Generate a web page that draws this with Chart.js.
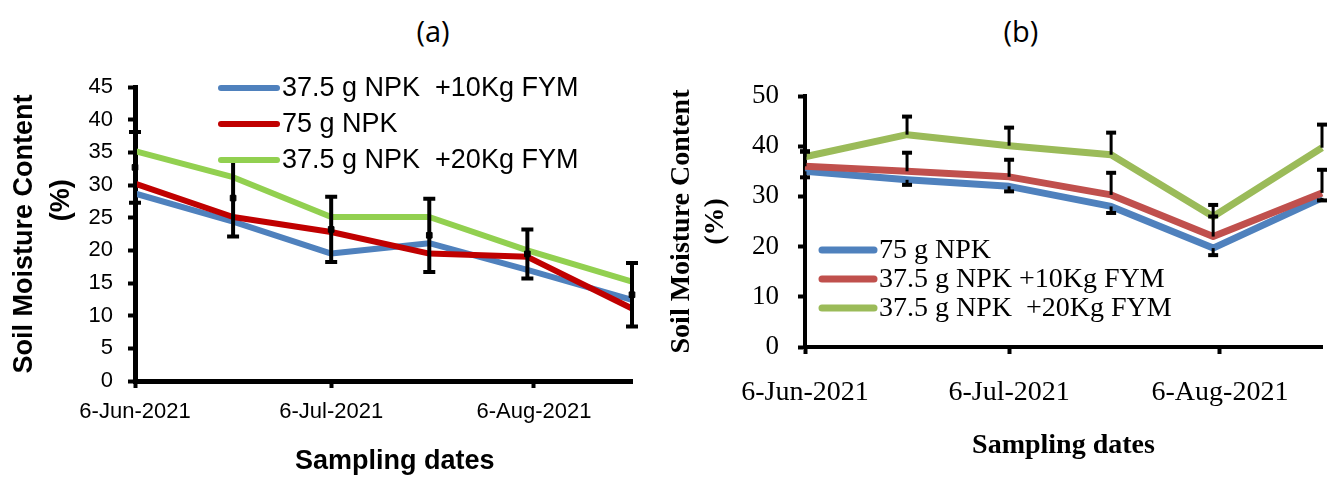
<!DOCTYPE html>
<html><head><meta charset="utf-8">
<script src="https://cdn.jsdelivr.net/npm/chart.js@4.4.1/dist/chart.umd.min.js"></script>
<style>
html,body{margin:0;padding:0;background:#fff;}
#wrap{position:relative;width:1330px;height:481px;overflow:hidden;background:#fff;}
canvas{position:absolute;top:0;}
#ca{left:0;} #cb{left:665px;}
.ptitle{position:absolute;top:11px;font-family:"Open Sans",sans-serif;font-size:29px;color:#000;transform:translateX(-50%);line-height:40px;white-space:nowrap;}
</style></head>
<body><div id="wrap">
<div class="ptitle" style="left:433px">(a)</div>
<div class="ptitle" style="left:1021px">(b)</div>
<canvas id="ca" width="665" height="481"></canvas>
<canvas id="cb" width="665" height="481"></canvas>
</div>
<script>
// ---- shared categories ----
const sampleDates = ['6-Jun-2021','21-Jun-2021','6-Jul-2021','21-Jul-2021','5-Aug-2021','21-Aug-2021'];
const tickDates = ['6-Jun-2021','6-Jul-2021','6-Aug-2021'];

// ---- panel (a) ----
const aLabels = ['37.5 g NPK  +10Kg FYM','75 g NPK','37.5 g NPK  +20Kg FYM'];
const aFym10 = [28.7,24.4,19.5,21.1,17.0,12.4];
const aNpk75 = [30.2,25.1,22.8,19.5,19.0,11.1];
const aFym20 = [35.2,31.2,25.1,25.1,20.0,15.2];
const aErrMid = [32.7,28.0,23.2,22.3,19.45,13.2];
const aErrHalf = [5.4,5.9,5.0,5.6,3.75,4.85];
const aYTicks = [0,5,10,15,20,25,30,35,40,45];

// ---- panel (b) ----
const bLabels = ['75 g NPK','37.5 g NPK +10Kg FYM','37.5 g NPK  +20Kg FYM'];
const bNpk75 = [35.0,33.3,32.0,28.0,19.7,29.7];
const bFym10 = [36.0,35.0,33.9,30.3,22.0,30.7];
const bFym20 = [37.9,42.3,40.1,38.3,26.0,39.7];
const bNpk75ErrMinus = [1.2,1.0,1.0,1.3,1.4,0.5];
const bFym10ErrPlus = [3.0,3.7,3.4,4.4,4.0,4.6];
const bFym20ErrPlus = [1.0,3.6,3.6,4.4,2.3,4.6];
const bYTicks = [0,10,20,30,40,50];

// ---- date helpers ----
const MONTHS = {Jan:0,Feb:1,Mar:2,Apr:3,May:4,Jun:5,Jul:6,Aug:7,Sep:8,Oct:9,Nov:10,Dec:11};
function toDay(s){const p=s.split('-');return Date.UTC(+p[2],MONTHS[p[1]],+p[0])/86400000;}
const day0 = toDay(sampleDates[0]);
const sampleX = sampleDates.map(s=>toDay(s)-day0);
const tickX = tickDates.map(s=>toDay(s)-day0);
const pts = arr => arr.map((v,i)=>({x:sampleX[i],y:v}));

// ---- plugins ----
const errorBars = {
  id:'errorBars',
  afterDatasetsDraw(chart,args,o){
    const ctx=chart.ctx, xs=chart.scales.x, ys=chart.scales.y;
    ctx.save(); ctx.strokeStyle='#000'; ctx.lineWidth=o.width; ctx.lineCap='butt';
    chart.data.datasets.forEach(ds=>{
      if(!ds.errPlus && !ds.errMinus) return;
      ds.data.forEach((p,j)=>{
        const up=ds.errPlus?ds.errPlus[j]:0, dn=ds.errMinus?ds.errMinus[j]:0;
        const x=xs.getPixelForValue(p.x);
        const y1=ys.getPixelForValue(p.y+up), y2=ys.getPixelForValue(p.y-dn);
        ctx.beginPath(); ctx.moveTo(x,y1); ctx.lineTo(x,y2); ctx.stroke();
        ctx.lineWidth=o.capWidth;
        ctx.beginPath();
        if(up>0){ctx.moveTo(x-o.cap,y1);ctx.lineTo(x+o.cap,y1);}
        if(dn>0){ctx.moveTo(x-o.cap,y2);ctx.lineTo(x+o.cap,y2);}
        ctx.stroke();
        ctx.lineWidth=o.width;
      });
    });
    ctx.restore();
  }
};
const lineLegend = {
  id:'lineLegend',
  afterDraw(chart,args,o){
    const ctx=chart.ctx; ctx.save(); ctx.font=o.font; ctx.textBaseline='middle'; ctx.fillStyle='#000';
    let k=0;
    chart.data.datasets.forEach(ds=>{
      if(ds.noLegend) return;
      const y=o.y+k*o.rowH;
      ctx.strokeStyle=ds.borderColor; ctx.lineWidth=ds.borderWidth; ctx.lineCap='round';
      ctx.beginPath(); ctx.moveTo(o.x,y); ctx.lineTo(o.x+o.len,y); ctx.stroke();
      ctx.fillText(ds.label,o.x+o.len+o.gap,y+1);
      k++;
    });
    ctx.restore();
  }
};

function lineDs(label,data,color,w,order,extra){
  return Object.assign({label,data:pts(data),borderColor:color,backgroundColor:color,borderWidth:w,
    pointRadius:0,tension:0,borderJoinStyle:'round',clip:false,order},extra||{});
}
function axisCommon(bw){
  return {
    grid:{drawOnChartArea:false,drawTicks:true,tickLength:7,tickWidth:4,tickColor:'#000'},
    border:{display:true,color:'#000',width:bw}
  };
}

// ---- chart (a) ----
const SA='"Liberation Sans", Arial, sans-serif';
new Chart(document.getElementById('ca'),{
  type:'line',
  data:{datasets:[
    lineDs(aLabels[0],aFym10,'#4F81BD',6,3),
    lineDs(aLabels[1],aNpk75,'#C00000',6,2),
    lineDs(aLabels[2],aFym20,'#92D050',6,1),
    {label:'error',data:pts(aErrMid),errPlus:aErrHalf,errMinus:aErrHalf,noLegend:true,showLine:false,
      pointStyle:'rect',pointRadius:4,pointBackgroundColor:'#000',pointBorderColor:'#000',borderColor:'#000',clip:false,order:0}
  ]},
  options:{
    responsive:false,animation:false,devicePixelRatio:1,
    layout:{padding:{left:0,right:33,top:87,bottom:0}},
    plugins:{legend:{display:false},tooltip:{enabled:false},
      errorBars:{width:4,capWidth:4,cap:6},
      lineLegend:{x:221,y:88,rowH:36,len:56,gap:5,font:'27px '+SA}},
    scales:{
      x:Object.assign(axisCommon(5),{type:'linear',min:0,max:sampleX[sampleX.length-1],
        afterBuildTicks:s=>{s.ticks=tickX.map(v=>({value:v}));},
        ticks:{callback:(v,i)=>tickDates[i],font:{family:SA,size:22},color:'#000',padding:11,maxRotation:0,autoSkip:false},
        title:{display:true,text:'   Sampling dates',color:'#000',font:{family:SA,size:27,weight:'bold'},padding:{top:0,bottom:3}},
        afterFit:s=>{s.height=100;}}),
      y:Object.assign(axisCommon(5),{min:aYTicks[0],max:aYTicks[aYTicks.length-1],
        ticks:{stepSize:aYTicks[1]-aYTicks[0],font:{family:SA,size:22},color:'#000',padding:15},
        title:{display:true,text:['Soil Moisture Content','         (%)'],color:'#000',font:{family:SA,size:27,weight:'bold',lineHeight:'37px'},padding:{top:6,bottom:0}},
        afterFit:s=>{s.width=135;}})
    }
  },
  plugins:[errorBars,lineLegend]
});

// ---- chart (b) ----
const SB='"Liberation Serif", "Times New Roman", serif';
new Chart(document.getElementById('cb'),{
  type:'line',
  data:{datasets:[
    lineDs(bLabels[0],bNpk75,'#4F81BD',7,3,{errMinus:bNpk75ErrMinus}),
    lineDs(bLabels[1],bFym10,'#C0504D',7,2,{errPlus:bFym10ErrPlus}),
    lineDs(bLabels[2],bFym20,'#9BBB59',7,1,{errPlus:bFym20ErrPlus})
  ]},
  options:{
    responsive:false,animation:false,devicePixelRatio:1,
    layout:{padding:{left:0,right:8,top:96,bottom:0}},
    plugins:{legend:{display:false},tooltip:{enabled:false},
      errorBars:{width:3,capWidth:4,cap:5},
      lineLegend:{x:157,y:250,rowH:29,len:52,gap:5,font:'28px '+SB}},
    scales:{
      x:Object.assign(axisCommon(4),{type:'linear',min:0,max:sampleX[sampleX.length-1],
        afterBuildTicks:s=>{s.ticks=tickX.map(v=>({value:v}));},
        ticks:{callback:(v,i)=>tickDates[i],font:{family:SB,size:28},color:'#000',padding:22,maxRotation:0,autoSkip:false},
        title:{display:true,text:'Sampling dates',color:'#000',font:{family:SB,size:28,weight:'bold'},padding:{top:0,bottom:18}},
        afterFit:s=>{s.height=134;}}),
      y:Object.assign(axisCommon(4),{min:bYTicks[0],max:bYTicks[bYTicks.length-1],
        ticks:{stepSize:bYTicks[1]-bYTicks[0],font:{family:SB,size:27},color:'#000',padding:19},
        title:{display:true,text:['Soil Moisture Content','(%)'],color:'#000',font:{family:SB,size:28,weight:'bold',lineHeight:'34px'},padding:{top:0,bottom:0}},
        afterFit:s=>{s.width=140;}})
    }
  },
  plugins:[errorBars,lineLegend]
});
</script>
</body></html>
